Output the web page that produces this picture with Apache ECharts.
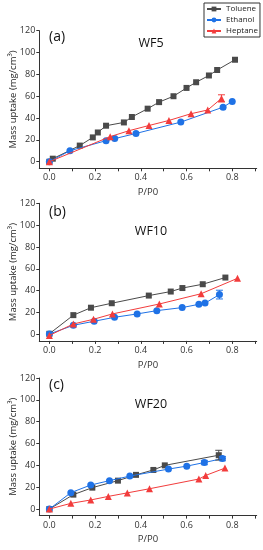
<!DOCTYPE html>
<html><head><meta charset="utf-8">
<script src="https://cdn.jsdelivr.net/npm/echarts@6/dist/echarts.min.js"></script>
<style>html,body{margin:0;padding:0;background:#fff}#c{width:263px;height:550px}</style>
</head><body><div id="c"></div>
<script>
var seriesNames = ['Toluene', 'Ethanol', 'Heptane'];
var panelLabels = ['(a)', '(b)', '(c)'];
var panelTitles = ['WF5', 'WF10', 'WF20'];
var xTickValues = [0, 0.1, 0.2, 0.3, 0.4, 0.5, 0.6, 0.7, 0.8, 0.9];
var xLabelValues = [0, 0.2, 0.4, 0.6, 0.8];
var yLabelValues = [0, 20, 40, 60, 80, 100, 120];

// Panel (a) WF5
var a_tol_x = [0, 0.015, 0.133, 0.19, 0.212, 0.248, 0.326, 0.361, 0.43, 0.48, 0.543, 0.6, 0.642, 0.698, 0.734, 0.812];
var a_tol_y = [0, 2.8, 14.8, 22.3, 26.8, 33, 36, 41, 48.6, 54.6, 60, 67.6, 72.8, 79, 84, 93.4];
var a_tol_err = [0, 0, 0, 0, 0, 0, 0, 0, 0, 0, 0, 0, 0, 0, 0, 0];
var a_eth_x = [0, 0.09, 0.248, 0.286, 0.379, 0.575, 0.76, 0.8];
var a_eth_y = [0, 10.1, 19.3, 21.2, 25.9, 36.3, 50, 55.2];
var a_eth_err = [0, 0, 0, 0, 0, 0, 0, 0];
var a_hep_x = [0, 0.266, 0.348, 0.436, 0.523, 0.62, 0.693, 0.753];
var a_hep_y = [0, 23, 28.4, 33.2, 37.8, 44, 47.4, 58];
var a_hep_err = [0, 0, 0, 0, 0, 0, 0, 3.3];

// Panel (b) WF10
var b_tol_x = [0, 0.105, 0.182, 0.273, 0.435, 0.531, 0.582, 0.671, 0.77];
var b_tol_y = [0.5, 17.6, 24.4, 28.5, 35.5, 39.2, 42.4, 45.9, 52];
var b_tol_err = [0, 0, 0, 0, 0, 0, 0, 0, 0];
var b_eth_x = [0, 0.105, 0.196, 0.285, 0.384, 0.47, 0.581, 0.654, 0.681, 0.744];
var b_eth_y = [0.3, 8.3, 12, 15.6, 18.7, 21.7, 24.5, 27.5, 28.6, 36.4];
var b_eth_err = [0, 0, 0, 0, 0, 0, 0, 0, 0, 4];
var b_hep_x = [0, 0.105, 0.193, 0.276, 0.481, 0.664, 0.823];
var b_hep_y = [-1, 9.5, 13.8, 18.7, 27.8, 37.2, 51.3];
var b_hep_err = [0, 0, 0, 0, 0, 0, 0];

// Panel (c) WF20
var c_tol_x = [0, 0.105, 0.188, 0.30, 0.379, 0.455, 0.505, 0.741];
var c_tol_y = [0, 13.2, 19.6, 26, 31.3, 35.8, 40, 49.3];
var c_tol_err = [0, 0, 0, 0, 0, 0, 0, 4.5];
var c_eth_x = [0, 0.094, 0.181, 0.263, 0.352, 0.521, 0.601, 0.678, 0.757];
var c_eth_y = [0, 15, 22, 26, 30.2, 36.6, 39.3, 42.6, 46.2];
var c_eth_err = [0, 0, 0, 0, 0, 0, 0, 2, 2];
var c_hep_x = [0, 0.094, 0.181, 0.258, 0.341, 0.438, 0.654, 0.684, 0.768];
var c_hep_y = [0, 5.2, 8.3, 11.6, 14.8, 18.6, 27.5, 30.8, 37.5];
var c_hep_err = [0, 0, 0, 0, 0, 0, 0, 0, 0];

var panels = [
  [[a_tol_x, a_tol_y, a_tol_err], [a_eth_x, a_eth_y, a_eth_err], [a_hep_x, a_hep_y, a_hep_err]],
  [[b_tol_x, b_tol_y, b_tol_err], [b_eth_x, b_eth_y, b_eth_err], [b_hep_x, b_hep_y, b_hep_err]],
  [[c_tol_x, c_tol_y, c_tol_err], [c_eth_x, c_eth_y, c_eth_err], [c_hep_x, c_hep_y, c_hep_err]]
];

var colors = ['#4a4a4a', '#1f72e6', '#f23c3c'];
var symbols = ['rect', 'circle', 'triangle'];
var symbolSizes = [6, 7, 7];
var FONT = 'Open Sans, Noto Sans, sans-serif';
var gridTops = [30.7, 203.3, 378];
var gridH = 137.6;
var labelTops = [25.5, 200.5, 373];
var titleTops = [31.5, 220, 393];

var grids = [], xAxes = [], yAxes = [], series = [], titles = [];
for (var p = 0; p < 3; p++) {
  grids.push({left: 39.3, width: 217.4, top: gridTops[p], height: gridH,
    containLabel: false, outerBoundsMode: 'none'});
  xAxes.push({
    type: 'value', gridIndex: p, min: -0.044, max: 0.907,
    name: 'P/P0', nameLocation: 'middle', nameGap: 19, nameMoveOverlap: false,
    nameTextStyle: {fontFamily: FONT, fontSize: 9.5, color: '#333'},
    axisLine: {show: true, onZero: false, lineStyle: {color: '#333', width: 1}},
    axisTick: {show: true, length: 3, customValues: xTickValues, lineStyle: {color: '#333'}},
    axisLabel: {customValues: xLabelValues, fontFamily: FONT, fontSize: 9, color: '#333', margin: 5,
      formatter: function (v) { return v.toFixed(1); }},
    splitLine: {show: false}
  });
  yAxes.push({
    type: 'value', gridIndex: p, min: -6, max: 120,
    name: 'Mass uptake (mg/cm³)', nameLocation: 'middle', nameGap: 21, nameMoveOverlap: false,
    nameTextStyle: {fontFamily: FONT, fontSize: 9.5, color: '#222'},
    axisLine: {show: true, onZero: false, lineStyle: {color: '#333', width: 1}},
    axisTick: {show: true, length: 3, customValues: yLabelValues, lineStyle: {color: '#333'}},
    axisLabel: {customValues: yLabelValues, fontFamily: FONT, fontSize: 9, color: '#333', margin: 4},
    splitLine: {show: false}
  });
  titles.push({text: panelLabels[p], left: 44, top: labelTops[p],
    textStyle: {fontFamily: FONT, fontSize: 14, fontWeight: 'normal', color: '#111'}});
  titles.push({text: panelTitles[p], left: 146, textAlign: 'center', top: titleTops[p],
    textStyle: {fontFamily: FONT, fontSize: 12.5, fontWeight: 'normal', color: '#111'}});
  for (var s = 0; s < 3; s++) {
    var d = panels[p][s];
    var pts = d[0].map(function (x, i) { return [x, d[1][i]]; });
    series.push({
      name: seriesNames[s], type: 'line', xAxisIndex: p, yAxisIndex: p,
      data: pts, symbol: symbols[s], symbolSize: symbolSizes[s], showAllSymbol: true,
      lineStyle: {color: colors[s], width: 1}, itemStyle: {color: colors[s]},
      animation: false, z: 2 + s
    });
    var errPts = [];
    d[2].forEach(function (e, i) { if (e > 0) errPts.push([d[0][i], d[1][i], e]); });
    if (errPts.length) {
      series.push({
        name: seriesNames[s] + ' err', type: 'custom', xAxisIndex: p, yAxisIndex: p,
        data: errPts, animation: false, z: 5,
        renderItem: (function (col) {
          return function (params, api) {
            var x = api.value(0), y = api.value(1), e = api.value(2);
            var top = api.coord([x, y + e]), bot = api.coord([x, y - e]);
            var w = 3.5;
            var st = {stroke: col, lineWidth: 1};
            return {type: 'group', children: [
              {type: 'line', shape: {x1: top[0], y1: top[1], x2: bot[0], y2: bot[1]}, style: st},
              {type: 'line', shape: {x1: top[0] - w, y1: top[1], x2: top[0] + w, y2: top[1]}, style: st},
              {type: 'line', shape: {x1: bot[0] - w, y1: bot[1], x2: bot[0] + w, y2: bot[1]}, style: st}
            ]};
          };
        })(colors[s])
      });
    }
  }
}

var chart = echarts.init(document.getElementById('c'), null, {renderer: 'canvas'});
chart.setOption({
  backgroundColor: '#fff',
  animation: false,
  title: titles,
  legend: {
    data: seriesNames, orient: 'vertical', left: 204, top: 3,
    itemWidth: 14, itemHeight: 6, itemGap: 3, padding: [2, 2, 2, 2],
    borderColor: '#333', borderWidth: 1,
    textStyle: {fontFamily: FONT, fontSize: 8, color: '#222'}
  },
  grid: grids, xAxis: xAxes, yAxis: yAxes, series: series
});
</script></body></html>
